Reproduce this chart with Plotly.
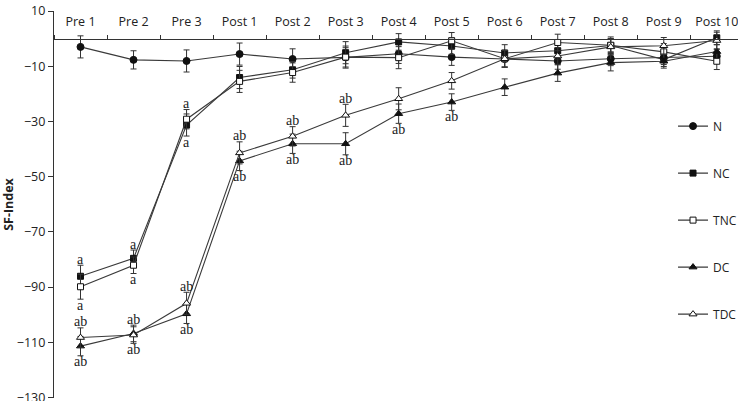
import plotly.graph_objects as go

categories = ["Pre 1", "Pre 2", "Pre 3", "Post 1", "Post 2", "Post 3", "Post 4",
              "Post 5", "Post 6", "Post 7", "Post 8", "Post 9", "Post 10"]

N_vals = [-3.0, -7.7, -8.1, -5.6, -7.4, -6.8, -5.5, -6.7, -7.4, -8.1, -7.3, -6.9, -6.4]
NC_vals = [-86.1, -79.6, -31.3, -14.1, -11.3, -5.1, -1.2, -2.7, -5.2, -4.4, -2.5, -7.6, 0.3]
TNC_vals = [-89.9, -82.1, -29.2, -15.5, -12.3, -6.7, -6.9, -0.8, -7.3, -1.4, -2.4, -4.8, -8.2]
DC_vals = [-111.4, -106.8, -99.7, -44.3, -38.1, -38.1, -27.2, -23.0, -17.6, -12.5, -8.7, -8.2, -4.7]
TDC_vals = [-108.3, -107.4, -95.9, -41.4, -35.4, -27.8, -21.8, -15.3, -7.3, -6.3, -3.0, -2.6, -0.7]

N_err = [4, 3.3, 4, 4, 3.7, 3.5, 3.5, 3, 3, 3, 2.5, 2.5, 2.5]
NC_err = [4, 3, 4, 4, 3, 4, 3, 3, 3, 3, 2.5, 2.5, 2.5]
TNC_err = [4.5, 3, 3.5, 4, 3.5, 4, 4, 3, 3, 3, 3, 3, 3]
DC_err = [3.5, 3, 3.5, 3.5, 3.5, 4, 3.5, 3, 3, 3, 3, 2.5, 2.5]
TDC_err = [3.5, 3, 4, 4, 3.5, 4, 4, 3, 3, 3, 3, 3, 3]

y_ticks = [10, -10, -30, -50, -70, -90, -110, -130]

# significance letters (above upper / below lower member of each pair)
pairA_above = ["a", "a", "a"] + [""] * 10
pairA_below = ["a", "a", "a"] + [""] * 10
pairB_above = ["ab"] * 6 + [""] * 7
pairB_below = ["ab"] * 8 + [""] * 5

series = [
    ("N", N_vals, N_err, "circle", "#111", 7),
    ("NC", NC_vals, NC_err, "square", "#111", 6),
    ("TNC", TNC_vals, TNC_err, "square", "white", 6),
    ("DC", DC_vals, DC_err, "triangle-up", "#111", 7),
    ("TDC", TDC_vals, TDC_err, "triangle-up", "white", 7),
]

fig = go.Figure()
for name, vals, err, sym, fill, size in series:
    fig.add_trace(go.Scatter(
        x=categories, y=vals, name=name, mode="lines+markers",
        line=dict(color="#3a3a3a", width=1.1),
        marker=dict(symbol=sym, size=size, color=fill,
                    line=dict(color="#111", width=1)),
        error_y=dict(type="data", array=err, visible=True, color="#333", thickness=1, width=3),
        legendgroup=name,
    ))

annots = []
letter_font = dict(family="Liberation Serif", size=14, color="#222")
def add_pair(a_vals, a_err, b_vals, b_err, above, below):
    for i, c in enumerate(categories):
        top = max(a_vals[i] + a_err[i], b_vals[i] + b_err[i])
        bot = min(a_vals[i] - a_err[i], b_vals[i] - b_err[i])
        if above[i]:
            annots.append(dict(x=c, y=top, text=above[i], showarrow=False, yanchor="bottom",
                               yshift=-2.5, borderpad=0, font=letter_font))
        if below[i]:
            annots.append(dict(x=c, y=bot, text=below[i], showarrow=False, yanchor="top",
                               yshift=2.5, borderpad=0, font=letter_font))

add_pair(NC_vals, NC_err, TNC_vals, TNC_err, pairA_above, pairA_below)
add_pair(DC_vals, DC_err, TDC_vals, TDC_err, pairB_above, pairB_below)

fig.update_layout(
    width=738, height=401,
    margin=dict(l=54, r=0, t=11, b=3, autoexpand=False),
    paper_bgcolor="white", plot_bgcolor="white",
    font=dict(family="Open Sans", size=12, color="#222"),
    showlegend=True,
    legend=dict(x=0.905, y=0.74, xanchor="left", yanchor="top", bgcolor="rgba(0,0,0,0)",
                font=dict(size=12, family="Open Sans"), tracegroupgap=28, itemwidth=30),
    annotations=annots,
    xaxis=dict(type="category", range=[-0.5, 12.4], side="top", anchor="free",
               position=130.2 / 140.2, showline=True, linecolor="#333", linewidth=1.2,
               ticks="outside", tickson="boundaries", ticklen=4, tickcolor="#333",
               ticklabelstandoff=8, automargin=False,
               showgrid=False, zeroline=False, tickfont=dict(size=12.5)),
    yaxis=dict(range=[-130.2, 10], tickmode="array", tickvals=y_ticks, showline=True,
               linecolor="#333", linewidth=1.2, ticks="outside", ticklen=5, tickcolor="#333",
               ticklabeloverflow="allow", automargin=False,
               showgrid=False, zeroline=False, tickfont=dict(size=12.5),
               title=dict(text="<b>SF-Index</b>", font=dict(size=12.5), standoff=4)),
)

fig.write_html("out.html")
